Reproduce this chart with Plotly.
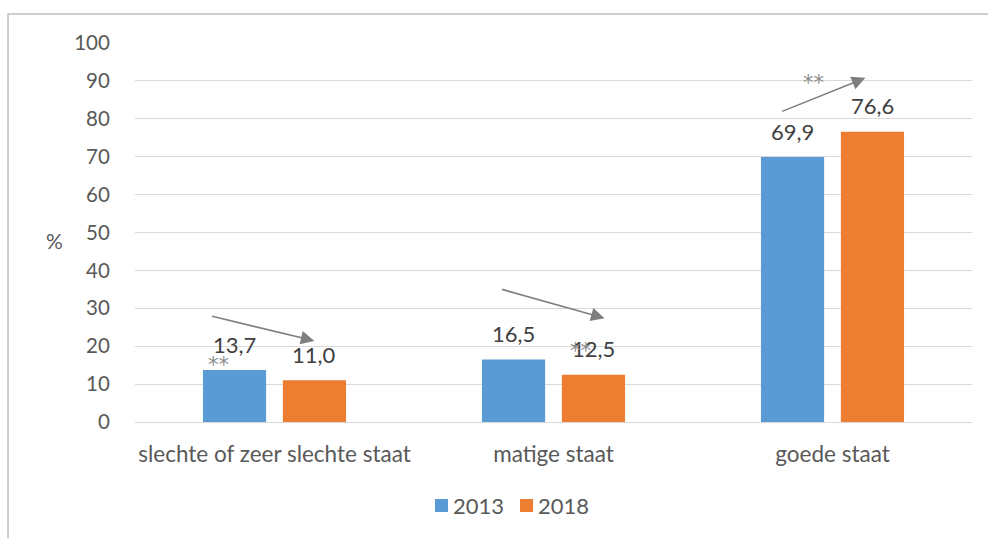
import plotly.graph_objects as go

categories = ["slechte of zeer slechte staat", "matige staat", "goede staat"]
years = ["2013", "2018"]
values_2013 = [13.7, 16.5, 69.9]
values_2018 = [11.0, 12.5, 76.6]
y_ticks = [0, 10, 20, 30, 40, 50, 60, 70, 80, 90, 100]

BLUE = "#5B9BD5"
ORANGE = "#ED7D31"
AXIS_TEXT = "#595959"
LABEL_TEXT = "#404040"
ARROW = "#7F7F7F"
FONT = "Lato, 'Liberation Sans', sans-serif"

BARGAP = 0.427
BARGROUPGAP = 0.21
half_slot = (1 - BARGAP) / 4  # centre offset of each bar within its group


def fmt(v):
    return f"{v:.1f}".replace(".", ",")


fig = go.Figure()
fig.add_trace(go.Bar(name=years[0], x=categories, y=values_2013,
                     marker=dict(color=BLUE, line=dict(width=0))))
fig.add_trace(go.Bar(name=years[1], x=categories, y=values_2018,
                     marker=dict(color=ORANGE, line=dict(width=0))))

annotations = []
shapes = []
# value labels above each bar
for i, (a, b) in enumerate(zip(values_2013, values_2018)):
    for v, dx in ((a, -half_slot), (b, half_slot)):
        annotations.append(dict(x=i + dx, y=v, xref="x", yref="y", text=fmt(v),
                                showarrow=False, yanchor="middle", yshift=26,
                                font=dict(family=FONT, size=22, color=LABEL_TEXT)))

# trend arrows between the two years
arrows = [
    ((-0.229, 28.0), (0.143, 21.4)),
    ((0.810, 35.1), (1.183, 27.4)),
    ((1.814, 81.8), (2.118, 90.8)),
]
for (x0, y0), (x1, y1) in arrows:
    annotations.append(dict(x=x1, y=y1, ax=x0, ay=y0, xref="x", yref="y",
                            axref="x", ayref="y", text="", showarrow=True,
                            arrowhead=2, arrowsize=1.7, arrowwidth=1.6,
                            arrowcolor=ARROW, standoff=0))

# significance markers
stars = [(-0.20, 15.0), (1.097, 18.7), (1.932, 89.5)]
for x, y in stars:
    annotations.append(dict(x=x, y=y, xref="x", yref="y", text="**",
                            showarrow=False,
                            font=dict(family="'DejaVu Sans', sans-serif",
                                      size=21, color="#8C8C8C")))

annotations.append(dict(x=-0.0956, y=0.48, xref="paper", yref="paper", text="%",
                        showarrow=False, xanchor="center",
                        font=dict(family=FONT, size=21, color=AXIS_TEXT)))

# legend: coloured square followed by the year
legend_items = [(years[0], BLUE, 0.3584), (years[1], ORANGE, 0.4600)]
for name, color, x0 in legend_items:
    shapes.append(dict(type="rect", xref="paper", yref="paper",
                       x0=x0, x1=x0 + 0.0156, y0=-0.2375, y1=-0.2032,
                       fillcolor=color, line=dict(width=0)))
    annotations.append(dict(x=x0 + 0.0195, y=-0.2215, xref="paper", yref="paper",
                            text=name, showarrow=False, xanchor="left",
                            yanchor="middle",
                            font=dict(family=FONT, size=22, color=AXIS_TEXT)))

# chart frame
shapes.append(dict(type="rect", xref="paper", yref="paper",
                   x0=-0.1517, x1=1.2, y0=-0.5, y1=1.0765,
                   line=dict(color="#BFBFBF", width=1.5), layer="below"))

fig.update_layout(
    width=988, height=538,
    margin=dict(l=135, r=16, t=43, b=116),
    paper_bgcolor="white", plot_bgcolor="white",
    barmode="group", bargap=BARGAP, bargroupgap=BARGROUPGAP,
    font=dict(family=FONT, color=AXIS_TEXT),
    showlegend=False,
    annotations=annotations,
    shapes=shapes,
)
fig.update_xaxes(showgrid=False, showline=False, zeroline=False,
                 ticks="outside", ticklen=12, tickcolor="rgba(0,0,0,0)",
                 tickfont=dict(family=FONT, size=22.5, color=AXIS_TEXT))
fig.update_yaxes(range=[0, 100], tickvals=y_ticks, showgrid=True,
                 gridcolor="#D9D9D9", gridwidth=1.3, zeroline=True,
                 zerolinecolor="#D9D9D9", zerolinewidth=1.3, showline=False,
                 ticks="outside", ticklen=20, tickcolor="rgba(0,0,0,0)",
                 tickfont=dict(family=FONT, size=20.5, color=AXIS_TEXT))

fig.write_html("out.html")
